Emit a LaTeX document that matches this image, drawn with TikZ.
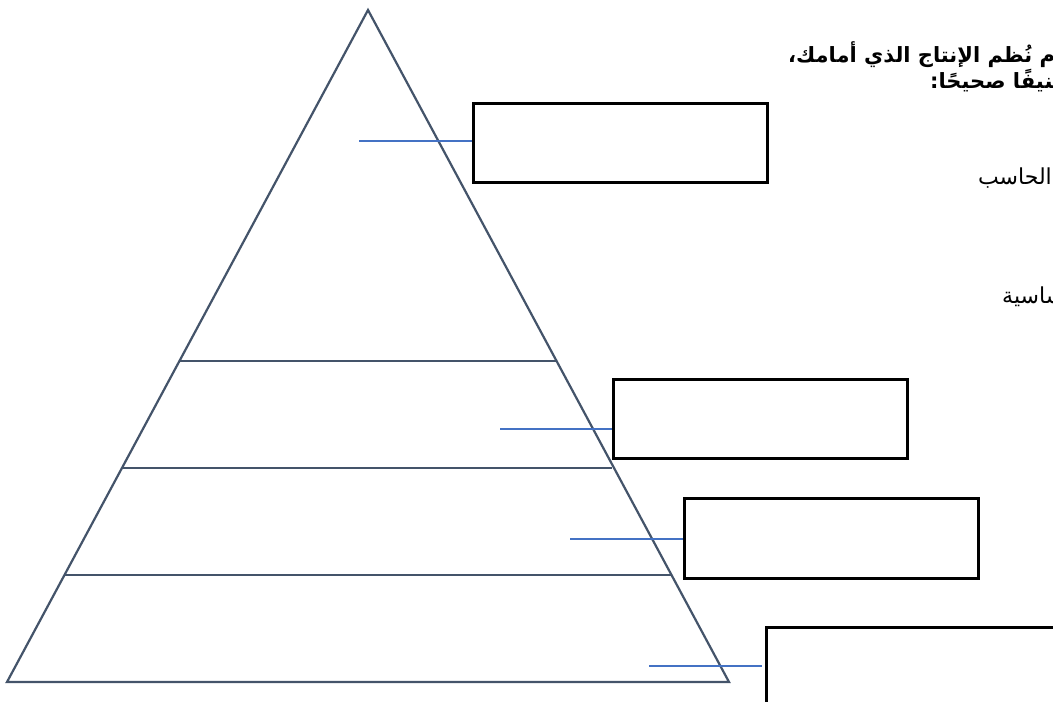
\documentclass[tikz,border=0pt]{standalone}
\usepackage{fontspec}
\TeXXeTstate=1
\newfontfamily\arabicfont[Script=Arabic]{DejaVu Sans}
\definecolor{pyrline}{HTML}{44546A}
\definecolor{conline}{HTML}{4472C4}
\tikzset{
  pyr/.style={draw=pyrline, line width=2.2pt, line join=miter},
  level/.style={draw=pyrline, line width=2.2pt},
  ansbox/.style={draw=black, line width=2.6pt, rectangle, inner sep=0pt, anchor=north west},
  con/.style={draw=conline, line width=1.2pt},
  artxt/.style={inner sep=0pt, font=\arabicfont\fontsize{22}{26}\selectfont},
  artitle/.style={inner sep=0pt, font=\arabicfont\bfseries\fontsize{21}{26}\selectfont}
}
\begin{document}
\begin{tikzpicture}[x=1pt,y=-1pt]
\useasboundingbox (0,0) rectangle (1053,702);
\clip (0,0) rectangle (1053,702);
\fill[white] (0,0) rectangle (1053,702);
% pyramid
\coordinate (apex) at (368,10);
\coordinate (bl) at (7,682);
\coordinate (br) at (729,682);
\draw[pyr] (apex) -- (bl) -- (br) -- cycle;
\coordinate (l1a) at (180,361); \coordinate (l1b) at (556,361);
\coordinate (l2a) at (122,468); \coordinate (l2b) at (612,468);
\coordinate (l3a) at (65,575);  \coordinate (l3b) at (671,575);
\draw[level] (l1a) -- (l1b);
\draw[level] (l2a) -- (l2b);
\draw[level] (l3a) -- (l3b);
% answer boxes
\node[ansbox, minimum width=294pt, minimum height=79pt] (b1) at (472,102) {};
\node[ansbox, minimum width=294pt, minimum height=79pt] (b2) at (612,378) {};
\node[ansbox, minimum width=294pt, minimum height=80pt] (b3) at (683,497) {};
\node[ansbox, minimum width=340pt, minimum height=100pt] (b4) at (765,626) {};
% connectors
\coordinate (c1) at (359,141);
\coordinate (c2) at (500,429);
\coordinate (c3) at (570,539);
\coordinate (c4) at (649,666);
\coordinate (c4e) at (762,666);
\draw[con] (c1) -- (c1 -| b1.west);
\draw[con] (c2) -- (c2 -| b2.west);
\draw[con] (c3) -- (c3 -| b3.west);
\draw[con] (c4) -- (c4e);
% texts
\node[artitle, anchor=base west] (t1) at (788,62) {\beginR هرم نُظم الإنتاج الذي أمامك،\endR};
\node[artitle, anchor=base west] (t2) at (930,88) {\beginR تصنيفًا صحيحًا:\endR};
\node[artxt, anchor=base east] (t3) at (1052,184) {\beginR الحاسب\endR};
\node[artxt, anchor=base west] (t4) at (1002,303) {\beginR الأساسية\endR};
\end{tikzpicture}
\end{document}
